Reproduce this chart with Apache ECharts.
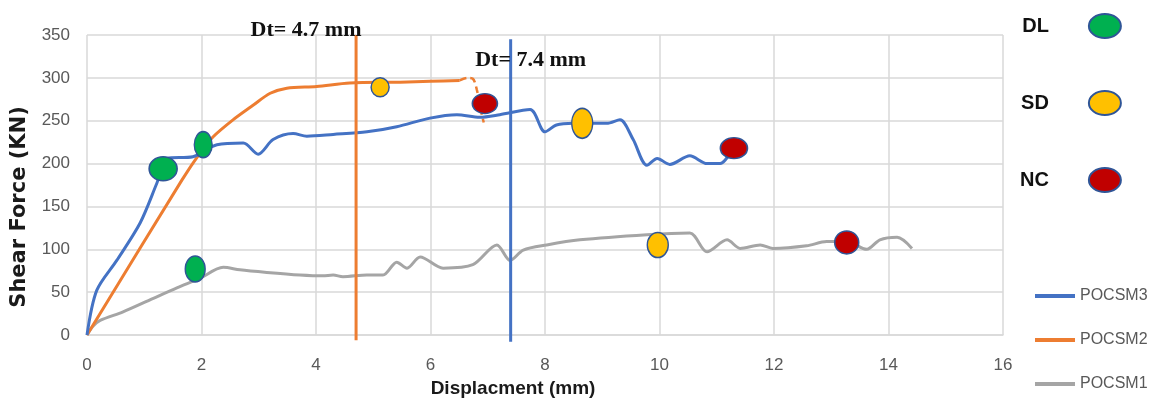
<!DOCTYPE html>
<html>
<head>
<meta charset="utf-8">
<script src="https://cdn.jsdelivr.net/npm/echarts@6/dist/echarts.min.js"></script>
<style>
  html, body { margin: 0; padding: 0; background: #ffffff; }
  #chart { width: 1151px; height: 408px; }
</style>
</head>
<body>
<div id="chart"></div>
<script>
// Shear force vs displacement for the three POCSM specimens
const sm3Disp  = [0, 0.17, 0.52, 0.93, 1.22, 1.4, 1.85, 2.27, 2.73, 2.99, 3.25, 3.6, 3.84, 4.3, 4.89, 5.41, 5.99, 6.46, 6.86, 7.21, 7.74, 8.0, 8.2, 8.49, 9.08, 9.31, 9.54, 9.78, 9.96, 10.18, 10.53, 10.83, 11.06, 11.28];
const sm3Force = [0, 52, 87, 131, 177, 206, 208, 222, 224, 211, 228, 235, 232, 234, 237, 243, 253, 257, 254, 257, 263, 237, 245, 247, 247, 251, 228, 198, 206, 199, 209, 200, 200, 218];

const sm2Disp  = [0, 1.66, 1.97, 2.2, 2.55, 2.9, 3.2, 3.49, 4.01, 4.59, 5.47, 6.0, 6.51];
const sm2Force = [0, 181, 212, 231, 251, 268, 282, 288, 290, 294, 295, 296, 297];
const sm2TailDisp  = [6.51, 6.64, 6.74, 6.81, 6.88, 6.93];
const sm2TailForce = [297, 300, 299, 286, 262, 248];

const sm1Disp  = [0, 0.1, 0.23, 0.63, 1.1, 1.57, 1.97, 2.38, 2.67, 3.14, 3.72, 4.12, 4.3, 4.47, 4.89, 5.17, 5.41, 5.59, 5.82, 6.22, 6.74, 7.16, 7.39, 7.62, 8.03, 8.61, 9.78, 10.53, 10.83, 11.18, 11.41, 11.76, 11.98, 12.57, 12.92, 13.27, 13.62, 13.85, 14.15, 14.41];
const sm1Force = [0, 10, 17, 27, 41, 55, 66, 79, 76, 73, 70, 69, 70, 68, 70, 70, 85, 78, 91, 78, 82, 105, 87, 99, 105, 111, 117, 119, 97, 111, 101, 105, 101, 104, 109, 109, 100, 111, 114, 101];

// Damage states: DL, SD, NC (points on the curves)
const dlDisp  = [1.33, 2.03, 1.89];
const dlForce = [194, 222, 77];
const sdDisp  = [5.12, 8.65, 9.97];
const sdForce = [289, 247, 105];
const ncDisp  = [6.95, 11.3, 13.27];
const ncForce = [270, 218, 108];

// Displacement thresholds (vertical lines) and their vertical extent
const dtValues = [4.7, 7.4];
const dtTop    = [350, 345];
const dtBottom = [-6, -8];

const seriesNames = ['POCSM3', 'POCSM2', 'POCSM1'];
const stateNames  = ['DL', 'SD', 'NC'];

const pairs = (xs, ys) => xs.map((x, i) => [x, ys[i]]);

// Marker ellipse sizes [w, h] for each state point
const dlSizes = [[28, 24], [18, 26], [20, 26]];
const sdSizes = [[18, 19], [21, 30], [21, 25]];
const ncSizes = [[25, 20], [27, 21], [24, 23]];

const ellipse = 'path://M0,50 A50,50 0 1,1 100,50 A50,50 0 1,1 0,50 Z';
const sans = "'Liberation Sans', Arial, sans-serif";

function stateSeries(name, xs, ys, sizes, color) {
  return {
    name: name,
    type: 'scatter',
    symbol: ellipse,
    z: 10,
    itemStyle: { color: color, borderColor: '#2f5597', borderWidth: 1.5, opacity: 1 },
    data: pairs(xs, ys).map((p, i) => ({ value: p, symbolSize: sizes[i] }))
  };
}

function dtSeries(idx, color) {
  const v = dtValues[idx];
  return {
    name: 'Dt ' + v,
    type: 'line',
    clip: false,
    z: 5,
    showSymbol: true,
    symbolSize: 0,
    lineStyle: { color: color, width: 3 },
    itemStyle: { color: color },
    data: [
      {
        value: [v, dtTop[idx]],
        label: {
          show: true,
          position: 'inside',
          offset: idx === 0 ? [-50, -5] : [20, 21],
          formatter: () => 'Dt= ' + v + ' mm',
          fontFamily: "'Liberation Serif', 'Times New Roman', serif",
          fontWeight: 'bold',
          fontSize: 22,
          color: '#111111'
        }
      },
      [v, dtBottom[idx]]
    ],
    emphasis: { disabled: true }
  };
}

const chart = echarts.init(document.getElementById('chart'));
chart.setOption({
  animation: false,
  backgroundColor: '#ffffff',
  grid: { left: 87, right: 148, top: 35, bottom: 73 },
  xAxis: {
    type: 'value',
    min: 0, max: 16, interval: 2,
    name: 'Displacment (mm)',
    nameLocation: 'middle',
    nameGap: 44,
    nameTextStyle: { fontFamily: sans, fontWeight: 'bold', fontSize: 19, color: '#1a1a1a', padding: [0, 64, 0, 0] },
    axisLine: { show: true, lineStyle: { color: '#d9d9d9', width: 1.5 } },
    axisTick: { show: false },
    axisLabel: { margin: 22, fontFamily: sans, fontSize: 17, color: '#595959' },
    splitLine: { show: true, lineStyle: { color: '#d9d9d9', width: 1.5 } }
  },
  yAxis: {
    type: 'value',
    min: 0, max: 350, interval: 50,
    name: 'Shear Force (KN)',
    nameLocation: 'middle',
    nameGap: 57,
    nameTextStyle: { fontFamily: "'DejaVu Sans', sans-serif", fontWeight: 'bold', fontSize: 21, color: '#1a1a1a', padding: [0, 44, 0, 0] },
    axisLine: { show: false },
    axisTick: { show: false },
    axisLabel: { margin: 17, fontFamily: sans, fontSize: 17, color: '#595959' },
    splitLine: { show: true, lineStyle: { color: '#d9d9d9', width: 1.5 } }
  },
  legend: [
    {
      data: stateNames,
      orient: 'vertical',
      left: 1015, top: 8,
      align: 'right',
      icon: ellipse,
      symbolKeepAspect: false,
      itemWidth: 32, itemHeight: 24,
      itemGap: 51,
      selectedMode: false,
      textStyle: { fontFamily: sans, fontWeight: 'bold', fontSize: 20, color: '#111111', padding: [0, 35, 0, 0] }
    },
    {
      data: seriesNames,
      orient: 'vertical',
      left: 1030, top: 279,
      icon: 'rect',
      itemWidth: 40, itemHeight: 4,
      itemGap: 20,
      selectedMode: false,
      textStyle: { fontFamily: sans, fontSize: 16, color: '#595959', lineHeight: 24 }
    }
  ],
  series: [
    {
      name: 'POCSM1', type: 'line', smooth: 0.3, showSymbol: false, z: 2,
      lineStyle: { color: '#a5a5a5', width: 3 }, itemStyle: { color: '#a5a5a5' },
      data: pairs(sm1Disp, sm1Force)
    },
    {
      name: 'POCSM2', type: 'line', smooth: 0.3, showSymbol: false, z: 3,
      lineStyle: { color: '#ed7d31', width: 3 }, itemStyle: { color: '#ed7d31' },
      data: pairs(sm2Disp, sm2Force)
    },
    {
      name: 'POCSM2 tail', type: 'line', smooth: 0.3, showSymbol: false, z: 3,
      lineStyle: { color: '#ed7d31', width: 2.5, type: [7, 4] },
      data: pairs(sm2TailDisp, sm2TailForce)
    },
    {
      name: 'POCSM3', type: 'line', smooth: 0.3, showSymbol: false, z: 4,
      lineStyle: { color: '#4472c4', width: 3 }, itemStyle: { color: '#4472c4' },
      data: pairs(sm3Disp, sm3Force)
    },
    dtSeries(0, '#ed7d31'),
    dtSeries(1, '#4472c4'),
    stateSeries('DL', dlDisp, dlForce, dlSizes, '#00b050'),
    stateSeries('SD', sdDisp, sdForce, sdSizes, '#ffc000'),
    stateSeries('NC', ncDisp, ncForce, ncSizes, '#c00000')
  ]
});
</script>
</body>
</html>
